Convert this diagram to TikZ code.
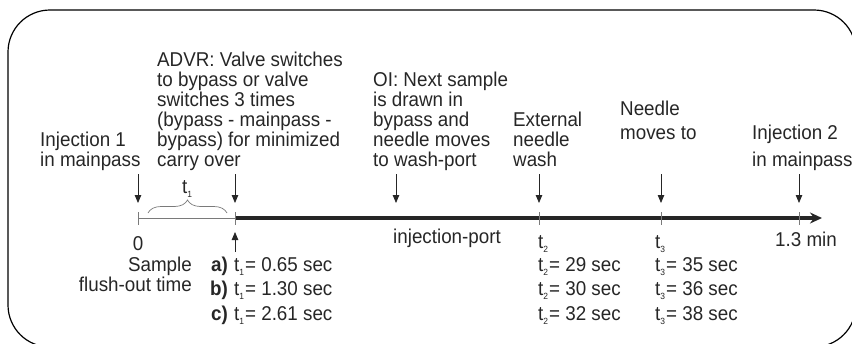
\documentclass[tikz,border=0pt]{standalone}
\usepackage{fontspec}
\setmainfont{Liberation Sans}[FakeStretch=0.94]
\usetikzlibrary{arrows.meta,decorations.pathreplacing}
\definecolor{txt}{HTML}{262626}
\definecolor{axisgray}{HTML}{7A7A7A}
\newcommand{\tsub}[1]{\raisebox{-0.4ex}{\fontsize{9}{9}\selectfont #1}}
\begin{document}
\begin{tikzpicture}[x=1pt,y=-1pt,
  lbl/.style={inner sep=0pt, font=\fontsize{20}{20}\selectfont, text=txt},
  lw/.style={lbl, anchor=base west},
  le/.style={lbl, anchor=base east},
  darr/.style={line width=0.8pt, draw=txt, -{Triangle[length=8pt,width=6.5pt]}},
  tickmark/.style={line width=0.8pt, draw=axisgray}]
\useasboundingbox (0,0) rectangle (852,343);
% frame
\draw[line width=1.2pt, rounded corners=42pt] (8,10) rectangle (856,347);
% top labels
\node[lw] (inj1a) at (40,146) {Injection 1};
\node[lw] (inj1b) at (40,166) {in mainpass};
\node[lw] (advr1) at (157,66) {ADVR: Valve switches};
\node[lw] (advr2) at (157,86) {to bypass or valve};
\node[lw] (advr3) at (157,106) {switches 3 times};
\node[lw] (advr4) at (157,126) {(bypass - mainpass -};
\node[lw] (advr5) at (157,146) {bypass) for minimized};
\node[lw] (advr6) at (157,166) {carry over};
\node[lw] (oi1) at (373,86) {OI: Next sample};
\node[lw] (oi2) at (373,106) {is drawn in};
\node[lw] (oi3) at (373,126) {bypass and};
\node[lw] (oi4) at (373,146) {needle moves};
\node[lw] (oi5) at (373,166) {to wash-port};
\node[lw] (ext1) at (513,126) {External};
\node[lw] (ext2) at (513,146) {needle};
\node[lw] (ext3) at (513,166) {wash};
\node[lw] (ndl1) at (620,115) {Needle};
\node[lw] (ndl2) at (620,139) {moves to};
\node[lw] (inj2a) at (752,139) {Injection 2};
\node[lw] (inj2b) at (752,166) {in mainpass};
% down arrows
\foreach \n/\x in {a/138,b/235,c/396,d/539,e/661,f/799}{
  \coordinate (top\n) at (\x,174);
  \coordinate (tip\n) at (\x,203);
  \draw[darr] (top\n) -- (tip\n);
}
% axis
\coordinate (ax0) at (138,218);
\coordinate (ax1) at (235,218);
\coordinate (axend) at (822,218);
\draw[line width=0.9pt, draw=axisgray] (ax0) -- (ax1);
\draw[line width=4pt, draw=txt, -{Stealth[length=12pt,width=11pt,inset=4pt]}] (ax1) -- (axend);
\foreach \n/\x in {a/138,b/235,d/539,e/661,f/799}{
  \coordinate (tk\n1) at (\x,212);
  \coordinate (tk\n2) at (\x,225);
  \draw[tickmark] (tk\n1) -- (tk\n2);
}
% brace
\coordinate (br0) at (148,213);
\coordinate (br1) at (227,213);
\draw[decorate, decoration={brace, amplitude=13pt}, draw=axisgray, line width=0.7pt] (br0) -- (br1);
\node[lbl, anchor=base] (t1lbl) at (187,193) {t\tsub{1}};
% up arrow
\coordinate (upb) at (235,252);
\coordinate (upt) at (235,232);
\draw[darr] (upb) -- (upt);
% bottom labels
\node[lbl, anchor=base] (zero) at (138,250) {0};
\node[le] (smp1) at (192,271) {Sample};
\node[le] (smp2) at (192,291) {flush-out time};
\node[lw] (port) at (393,243) {injection-port};
\node[lw] (t2lbl) at (538,248) {t\tsub{2}};
\node[lw] (t3lbl) at (655,248) {t\tsub{3}};
\node[lw] (endlbl) at (775,246) {1.3 min};
\node[le] (ca) at (228,271) {\bfseries a)};
\node[le] (cb) at (228,295.5) {\bfseries b)};
\node[le] (cc) at (228,320) {\bfseries c)};
\node[lw] (va) at (234,271) {t\tsub{1}\kern1pt= 0.65 sec};
\node[lw] (vb) at (234,295.5) {t\tsub{1}\kern1pt= 1.30 sec};
\node[lw] (vc) at (234,320) {t\tsub{1}\kern1pt= 2.61 sec};
\node[lw] (w1) at (538,271) {t\tsub{2}\kern1pt= 29 sec};
\node[lw] (w2) at (538,295.5) {t\tsub{2}\kern1pt= 30 sec};
\node[lw] (w3) at (538,320) {t\tsub{2}\kern1pt= 32 sec};
\node[lw] (m1) at (655,271) {t\tsub{3}\kern1pt= 35 sec};
\node[lw] (m2) at (655,295.5) {t\tsub{3}\kern1pt= 36 sec};
\node[lw] (m3) at (655,320) {t\tsub{3}\kern1pt= 38 sec};
\end{tikzpicture}
\end{document}
